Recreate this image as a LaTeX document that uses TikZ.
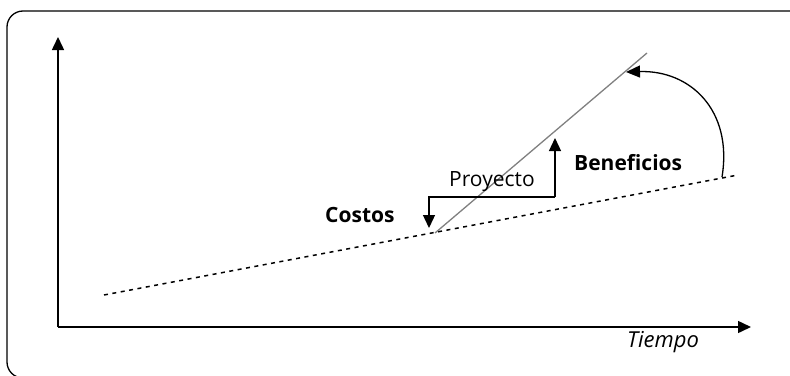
\documentclass[tikz,border=0pt]{standalone}
\usepackage{fontspec}
\setmainfont{Open Sans}
\usetikzlibrary{arrows.meta}
\begin{document}
\begin{tikzpicture}[x=1pt,y=-1pt,
  lbl/.style={inner sep=0pt,font=\fontsize{21}{24}\selectfont},
  axis/.style={line width=1.5pt,-{Triangle[length=13pt,width=12pt]}},
  marrow/.style={line width=1.3pt,-{Triangle[length=13pt,width=12pt]}},
  trend/.style={line width=1.5pt,dash pattern=on 4pt off 4.5pt},
  proj/.style={line width=1.3pt,draw=black!50}]
\useasboundingbox (0,0) rectangle (790,375);
\draw[line width=1.3pt,rounded corners=16pt] (7,11) rectangle (812,378);
% axes
\coordinate (O) at (58,327);
\coordinate (Ytop) at (58,37);
\coordinate (Xend) at (751,327);
\draw[axis] (O) -- (Ytop);
\draw[axis] (O) -- (Xend);
% trend (dashed)
\coordinate (T0) at (104,295);
\coordinate (T1) at (738,175);
\draw[trend] (T0) -- (T1);
% project line
\coordinate (P0) at (435,233);
\coordinate (P1) at (647,53);
\draw[proj] (P0) -- (P1);
% costos / beneficios arrows
\coordinate (Cend) at (429,228);
\coordinate (Bend) at (555,138);
\coordinate (Bstart) at (555,197);
\draw[marrow] (Bstart) -- (429,197) -- (Cend);
\draw[marrow] (Bstart) -- (Bend);
% curved arrow
\coordinate (Cs) at (722,177);
\coordinate (Ce) at (626,72);
\draw[line width=1.3pt,-{Triangle[length=14pt,width=12pt]}] (Cs) .. controls (733,110) and (690,70) .. (Ce);
% labels
\node[lbl,anchor=west] (proy) at (449,182) {Proyecto};
\node[lbl,anchor=west,font=\fontsize{21}{24}\selectfont\bfseries] (ben) at (574,163) {Beneficios};
\node[lbl,anchor=west,font=\fontsize{21}{24}\selectfont\bfseries] (cos) at (325,215) {Costos};
\node[lbl,anchor=west,font=\fontsize{22}{25}\selectfont\itshape] (tie) at (627,342) {Tiempo};
\end{tikzpicture}
\end{document}
